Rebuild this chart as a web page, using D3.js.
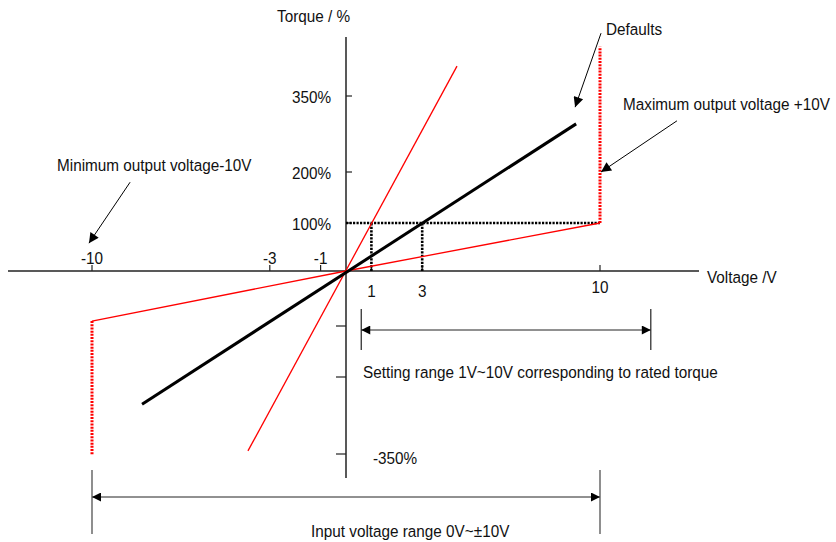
<!DOCTYPE html>
<html><head><meta charset="utf-8">
<script src="https://cdn.jsdelivr.net/npm/d3@7"></script>
<style>
body{margin:0;background:#fff;}
svg text{font-family:"Liberation Sans",Arial,sans-serif;font-size:17px;fill:#111;}
</style></head>
<body><svg id="chart" width="836" height="542"></svg>
<script>
// ---- data (voltage V, torque %) ----
const xTicks = [-10, -3, -1, 1, 3, 10];
const xTickLabels = ["-10", "-3", "-1", "1", "3", "10"];
const yTicks = [350, 200, 100, -100, -200, -350];
const yTickLabels = ["350%", "200%", "100%", "", "", "-350%"];
const defaultLine = [[-8.03, -253], [9.06, 295]];
const steepLine = [[-3.86, -344], [4.37, 409]];
const shallowLine = [[-10, -91], [0, 0], [10, 100]];
const maxVertical = [[10, 100], [10, 447]];
const minVertical = [[-10, -91], [-10, -352]];
const refHoriz = [[0, 100], [10, 100]];
const refVert1 = [[1, 0], [1, 100]];
const refVert3 = [[3, 0], [3, 100]];
const settingRange = [0.6, 12.0];
const inputRange = [-10, 10];

const svg = d3.select("#chart");
const x = d3.scaleLinear().domain([-10, 10]).range([92, 600]);
const y = d3.scaleLinear()
  .domain([-350, -200, -100, 0, 100, 200, 350])
  .range([454, 377, 326, 271, 223, 172, 96]);
const line = d3.line().x(d => x(d[0])).y(d => y(d[1]));

function label(px, py, str, anchor) {
  svg.append("text").attr("transform", `translate(${px},${py}) scale(0.9,1)`)
    .attr("text-anchor", anchor || "start").text(str);
}

// defs: arrowheads
const defs = svg.append("defs");
defs.append("marker").attr("id", "ah").attr("viewBox", "0 0 10 10")
  .attr("refX", 10).attr("refY", 5).attr("markerWidth", 12).attr("markerHeight", 9)
  .attr("markerUnits", "userSpaceOnUse").attr("orient", "auto-start-reverse")
  .append("path").attr("d", "M0,0L10,5L0,10Z").attr("fill", "#000");
defs.append("marker").attr("id", "ah2").attr("viewBox", "0 0 10 10")
  .attr("refX", 10).attr("refY", 5).attr("markerWidth", 14).attr("markerHeight", 10)
  .attr("markerUnits", "userSpaceOnUse").attr("orient", "auto-start-reverse")
  .append("path").attr("d", "M0,0L10,5L0,10Z").attr("fill", "#000");

// ---- axes ----
svg.append("line").attr("x1", 8).attr("x2", 699).attr("y1", y(0)).attr("y2", y(0))
  .attr("stroke", "#222").attr("stroke-width", 1.5);
svg.append("line").attr("x1", x(0)).attr("x2", x(0)).attr("y1", 37).attr("y2", 478)
  .attr("stroke", "#222").attr("stroke-width", 1.5);

// x ticks
xTicks.forEach((v, i) => {
  svg.append("line").attr("x1", x(v)).attr("x2", x(v)).attr("y1", y(0) - 6).attr("y2", y(0))
    .attr("stroke", "#222").attr("stroke-width", 1.2);
  const below = v > 0;
  label(x(v), below ? (v === 10 ? 293 : 297) : 264, xTickLabels[i], "middle");
});
// y ticks
yTicks.forEach((v, i) => {
  const pos = v > 0;
  svg.append("line").attr("x1", x(0)).attr("x2", pos ? x(0) + 6 : x(0) - 10)
    .attr("y1", y(v)).attr("y2", y(v)).attr("stroke", "#222").attr("stroke-width", 1.2);
  if (yTickLabels[i]) {
    if (pos) label(331, y(v) + 7, yTickLabels[i], "end");
    else label(373, y(v) + 10, yTickLabels[i], "start");
  }
});

label(277, 22, "Torque / %");
label(707, 283, "Voltage /V");

// ---- reference dotted lines ----
[refHoriz, refVert1, refVert3].forEach(d => {
  svg.append("path").attr("d", line(d)).attr("fill", "none").attr("stroke", "#000")
    .attr("stroke-width", 2.6).attr("stroke-dasharray", "2.2,1.3");
});

// ---- red lines ----
svg.append("path").attr("d", line(steepLine)).attr("fill", "none").attr("stroke", "#f00").attr("stroke-width", 1.3);
svg.append("path").attr("d", line(shallowLine)).attr("fill", "none").attr("stroke", "#f00").attr("stroke-width", 1.3);
[maxVertical, minVertical].forEach(d => {
  svg.append("path").attr("d", line(d)).attr("fill", "none").attr("stroke", "#f00")
    .attr("stroke-width", 3).attr("stroke-dasharray", "2,1.2");
});

// ---- default line ----
svg.append("path").attr("d", line(defaultLine)).attr("fill", "none").attr("stroke", "#000").attr("stroke-width", 3);

// ---- annotations ----
function arrow(x1, y1, x2, y2) {
  svg.append("line").attr("x1", x1).attr("y1", y1).attr("x2", x2).attr("y2", y2)
    .attr("stroke", "#000").attr("stroke-width", 1).attr("marker-end", "url(#ah2)");
}
arrow(x(10.04), y(474), x(9.02), y(328));
arrow(x(13.03), y(301), x(10.04), y(200));
arrow(x(-8.5), y(180), x(-10.12), y(58));
label(606, 35, "Defaults");
label(623, 110, "Maximum output voltage +10V");
label(57, 171, "Minimum output voltage-10V");

// setting range
const sy = 330;
svg.append("line").attr("x1", x(settingRange[0])).attr("x2", x(settingRange[1])).attr("y1", sy).attr("y2", sy)
  .attr("stroke", "#222").attr("stroke-width", 1)
  .attr("marker-start", "url(#ah)").attr("marker-end", "url(#ah)");
settingRange.forEach(v => svg.append("line").attr("x1", x(v)).attr("x2", x(v)).attr("y1", 309).attr("y2", 350)
  .attr("stroke", "#222").attr("stroke-width", 1.2));
label(363, 378, "Setting range 1V~10V corresponding to rated torque");

// input range
const iy = 497;
svg.append("line").attr("x1", x(inputRange[0])).attr("x2", x(inputRange[1])).attr("y1", iy).attr("y2", iy)
  .attr("stroke", "#222").attr("stroke-width", 1)
  .attr("marker-start", "url(#ah)").attr("marker-end", "url(#ah)");
inputRange.forEach(v => svg.append("line").attr("x1", x(v)).attr("x2", x(v)).attr("y1", 470).attr("y2", 534)
  .attr("stroke", "#444").attr("stroke-width", 1.2));
label(311, 537, "Input voltage range 0V~±10V");
</script></body></html>
